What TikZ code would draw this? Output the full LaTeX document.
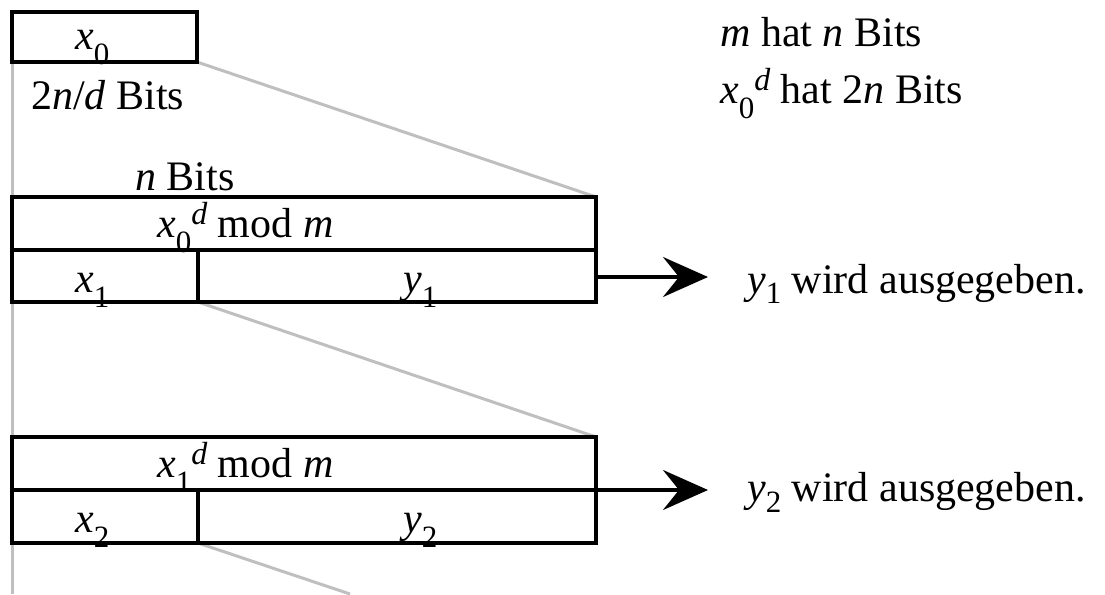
\documentclass[tikz,border=0pt]{standalone}
\usepackage{fontspec}
\setmainfont{Liberation Serif}
\usetikzlibrary{arrows.meta}
\newcommand\lowsub[2][-15pt]{\raisebox{#1}{\fontsize{31}{31}\selectfont #2}}
\newcommand\highsup[1]{\raisebox{13pt}{\fontsize{32}{32}\selectfont\textit{#1}}}
\begin{document}
\begin{tikzpicture}[x=1pt,y=-1pt,
  font=\fontsize{42}{50}\selectfont,
  box/.style={draw=black, line width=3.5pt},
  guide/.style={draw=black!25, line width=3pt},
  outarrow/.style={draw=black, line width=3.5pt, -{Stealth[length=45pt,width=40pt,inset=16pt]}},
  lbl/.style={inner sep=0pt, anchor=base west}]
\useasboundingbox (0,0) rectangle (1105,594);
% coordinates
\coordinate (b1tl) at (12,12);
\coordinate (b1br) at (197,62);
\coordinate (b1bl) at (12,62);
\coordinate (b2tl) at (12,197);
\coordinate (b2tr) at (596,197);
\coordinate (b2ml) at (12,250);
\coordinate (b2mr) at (596,250);
\coordinate (b2br) at (596,302);
\coordinate (b2dt) at (198,250);
\coordinate (b2db) at (198,302);
\coordinate (b3tl) at (12,437);
\coordinate (b3tr) at (596,437);
\coordinate (b3ml) at (12,490);
\coordinate (b3mr) at (596,490);
\coordinate (b3br) at (596,543);
\coordinate (b3dt) at (198,490);
\coordinate (b3db) at (198,543);
\coordinate (gbot) at (12,594);
\coordinate (gend) at (350,594);
\coordinate (a1s) at (596,277);
\coordinate (a1e) at (708,277);
\coordinate (a2s) at (596,490);
\coordinate (a2e) at (708,490);
% gray guides
\draw[guide] (b1bl) -- (gbot);
\draw[guide] (b1br) -- (b2tr);
\draw[guide] (b2db) -- (b3tr);
\draw[guide] (b3db) -- (gend);
% boxes
\draw[box] (b1tl) rectangle (b1br);
\draw[box] (b2tl) rectangle (b2br);
\draw[box] (b2ml) -- (b2mr);
\draw[box] (b2dt) -- (b2db);
\draw[box] (b3tl) rectangle (b3br);
\draw[box] (b3ml) -- (b3mr);
\draw[box] (b3dt) -- (b3db);
% arrows
\draw[outarrow] (a1s) -- (a1e);
\draw[outarrow] (a2s) -- (a2e);
% labels
\node[lbl] (tx0) at (75,50) {\textit{x}\lowsub{0}};
\node[lbl] (tbits1) at (31,109) {2\textit{n}/\textit{d} Bits};
\node[lbl] (tbits2) at (135,190) {\textit{n} Bits};
\node[lbl] (tmod1) at (157,237) {\textit{x}\lowsub{0}\highsup{d} mod \textit{m}};
\node[lbl] (tx1) at (75,292) {\textit{x}\lowsub{1}};
\node[lbl] (ty1) at (403,292) {\textit{y}\lowsub{1}};
\node[lbl] (tmod2) at (157,477) {\textit{x}\lowsub{1}\highsup{d} mod \textit{m}};
\node[lbl] (tx2) at (75,532) {\textit{x}\lowsub{2}};
\node[lbl] (ty2) at (403,532) {\textit{y}\lowsub{2}};
\node[lbl] (tm) at (720,47) {\textit{m} hat \textit{n} Bits};
\node[lbl] (tx0d) at (720,103) {\textit{x}\lowsub{0}\highsup{d} hat 2\textit{n} Bits};
\node[lbl] (out1) at (747,293) {\textit{y}\lowsub[-10pt]{1} wird ausgegeben.};
\node[lbl] (out2) at (747,501) {\textit{y}\lowsub[-11pt]{2} wird ausgegeben.};
\end{tikzpicture}
\end{document}
